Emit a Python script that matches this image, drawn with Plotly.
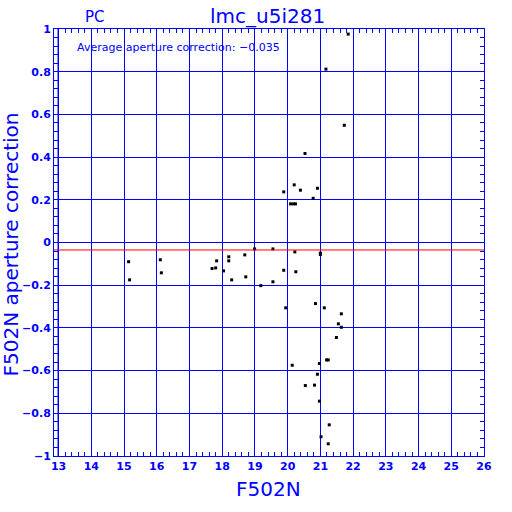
import plotly.graph_objects as go

# Data (F502N magnitude, aperture correction)
mag = [15.14, 15.17, 16.11, 16.14, 17.69, 17.80, 17.83, 18.04, 18.20, 18.20,
       18.29, 18.69, 18.72, 18.99, 19.18, 19.55, 19.55, 19.88, 19.94, 20.22,
       20.25, 20.53, 20.20, 20.39, 19.88, 20.91, 20.78, 20.09, 20.18, 20.24,
       21.00, 21.00, 20.85, 21.12, 21.64, 21.55, 21.64, 21.49, 21.19, 21.24,
       20.97, 20.14, 20.91, 20.54, 20.82, 20.97, 21.27, 21.02, 21.24,
       21.85, 21.17, 21.73]
apcor = [-0.090, -0.175, -0.081, -0.142, -0.122, -0.119, -0.086, -0.133, -0.067, -0.086,
         -0.175, -0.058, -0.161, -0.030, -0.202, -0.030, -0.184, -0.130, -0.306, -0.044,
         -0.137, 0.417, 0.270, 0.245, 0.237, 0.254, 0.207, 0.181, 0.181, 0.181,
         -0.050, -0.056, -0.286, -0.306, -0.334, -0.381, -0.397, -0.445, -0.550, -0.550,
         -0.567, -0.575, -0.617, -0.670, -0.668, -0.743, -0.854, -0.910, -0.943,
         0.976, 0.812, 0.549]
avg_corr = -0.035

BLUE = "#0000ff"
L, R, T, B = 54.3, 484.0, 29.0, 456.5
W = H = 512

def px(x):
    return (x - L) / (R - L)

def py(y):
    return (B - y) / (B - T)

fig = go.Figure()
fig.add_trace(go.Scatter(x=mag, y=apcor, mode="markers",
                         marker=dict(symbol="square", size=3, color="black", line=dict(width=0)),
                         showlegend=False, hoverinfo="skip"))

fig.add_shape(type="line", xref="paper", yref="y", x0=0, x1=1, y0=avg_corr, y1=avg_corr,
              line=dict(color="red", width=1))
fig.add_shape(type="line", xref="paper", yref="paper", x0=px(58.3), x1=px(58.3), y0=0, y1=1,
              line=dict(color=BLUE, width=1))

tickfont = dict(family="DejaVu Sans", size=11, color=BLUE, weight="bold")
fig.update_xaxes(range=[12.86, 26], tick0=13, dtick=1, showgrid=True, gridcolor=BLUE, gridwidth=1,
                 showline=True, linecolor=BLUE, linewidth=1, mirror="allticks",
                 ticks="inside", ticklen=4, tickcolor=BLUE, tickfont=tickfont,
                 minor=dict(dtick=0.2, tick0=13, ticks="inside", ticklen=4, tickcolor=BLUE, showgrid=False),
                 zeroline=False, fixedrange=True)
fig.update_yaxes(range=[-1, 1], tick0=0, dtick=0.2, showgrid=True, gridcolor=BLUE, gridwidth=1,
                 showline=True, linecolor=BLUE, linewidth=1, mirror="allticks",
                 ticks="inside", ticklen=4, tickcolor=BLUE, tickfont=tickfont,
                 minor=dict(dtick=0.04, tick0=0, ticks="inside", ticklen=4, tickcolor=BLUE, showgrid=False),
                 zeroline=False, fixedrange=True)

ann = [
    dict(text="PC", x=px(95), y=py(17), size=15),
    dict(text="lmc_u5i281", x=px(268), y=py(16), size=20),
    dict(text="F502N", x=px(269), y=py(490), size=20),
]
for a in ann:
    fig.add_annotation(text=a["text"], x=a["x"], y=a["y"], xref="paper", yref="paper",
                       showarrow=False, xanchor="center", yanchor="middle",
                       font=dict(family="DejaVu Sans", size=a["size"], color=BLUE))
fig.add_annotation(text="Average aperture correction: \u22120.035", x=px(75), y=py(48),
                   xref="paper", yref="paper", showarrow=False, xanchor="left", yanchor="middle",
                   font=dict(family="DejaVu Sans", size=11, color=BLUE))
fig.add_annotation(text="F502N aperture correction", x=px(11), y=py(245), xref="paper", yref="paper",
                   showarrow=False, textangle=-90, xanchor="center", yanchor="middle",
                   font=dict(family="DejaVu Sans", size=20, color=BLUE))

fig.update_layout(width=W, height=H, margin=dict(l=L, r=W - R, t=T, b=H - B, autoexpand=False),
                  paper_bgcolor="white", plot_bgcolor="white")

fig.write_html("out.html", config={"displayModeBar": False, "staticPlot": True},
               post_script="document.body.style.margin='0';")
